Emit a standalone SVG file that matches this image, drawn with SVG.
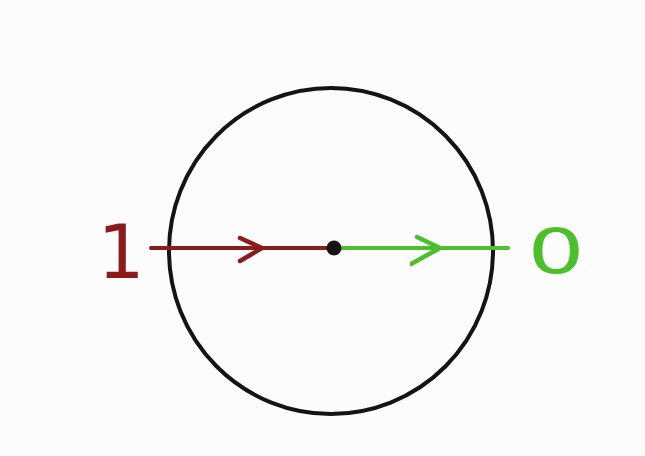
<svg xmlns="http://www.w3.org/2000/svg" width="645" height="456" viewBox="0 0 645 456">
  <style>
    .ring { fill: none; stroke: #141414; stroke-width: 4; }
    .in { fill: none; stroke: #8c1c1c; stroke-width: 4; stroke-linecap: round; }
    .out { fill: none; stroke: #4cbf2a; stroke-width: 4; stroke-linecap: round; }
    .lbl { font-family: "DejaVu Sans", "Liberation Sans", sans-serif; }
  </style>
  <defs>
    <marker id="chevRed" markerUnits="userSpaceOnUse" markerWidth="40" markerHeight="40" viewBox="-30 -20 40 40" refX="0" refY="0" orient="auto">
      <path d="M-22,-10 L0,0 L-22,13" fill="none" stroke="#8c1c1c" stroke-width="4.5" stroke-linecap="round" stroke-linejoin="round"/>
    </marker>
    <marker id="chevGreen" markerUnits="userSpaceOnUse" markerWidth="40" markerHeight="40" viewBox="-30 -20 40 40" refX="0" refY="0" orient="auto">
      <path d="M-23,-11 L0,0 L-29,16" fill="none" stroke="#4cbf2a" stroke-width="4.5" stroke-linecap="round" stroke-linejoin="round"/>
    </marker>
  </defs>
  <rect x="0" y="0" width="645" height="456" fill="#fcfcfc"/>
  <g id="circle-node">
    <ellipse class="ring" cx="331" cy="251" rx="162" ry="163"/>
  </g>
  <g id="connectors">
    <path class="in" d="M151,248 L262,248 L333,248" marker-mid="url(#chevRed)"/>
    <path class="out" d="M336,248 L440,248 L508,248" marker-mid="url(#chevGreen)"/>
  </g>
  <g id="center-node">
    <circle cx="334" cy="248" r="7.5" fill="#141414"/>
  </g>
  <g id="label-1">
    <text class="lbl" x="121" y="278" font-size="74" fill="#8c1c1c" text-anchor="middle">1</text>
  </g>
  <g id="label-0">
    <text class="lbl" x="0" y="0" font-size="62" fill="#4cbf2a" text-anchor="middle" transform="translate(556,273) scale(1.45,1)">0</text>
  </g>
</svg>
